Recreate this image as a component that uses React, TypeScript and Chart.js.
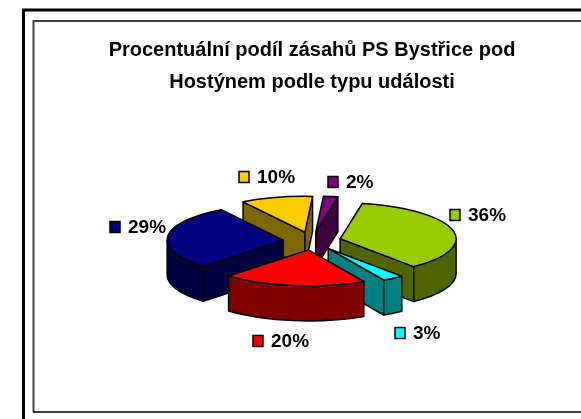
import React, { useEffect, useRef } from "react";
import { Chart, registerables } from "chart.js";

Chart.register(...registerables);

const titleLines = ["Procentuální podíl zásahů PS Bystřice pod", "Hostýnem podle typu události"];
const categories = ["A", "B", "C", "D", "E", "F"];
const shares = [36, 3, 20, 29, 10, 2];
const topColors = ["#99CC00", "#00FFFF", "#FF0000", "#000080", "#FFCC00", "#800080"];
const sideColors = ["#4D6600", "#008080", "#800000", "#000040", "#806600", "#400040"];
const labelAnchors = [
  [450, 215],
  [395, 333],
  [253, 341],
  [110, 227],
  [239, 177],
  [328, 182],
];

const FIRST_SLICE = 11;
const EXPLODE = 29;
const RADIUS = 116;
const TILT = 0.31;
const DEPTH = 35;
const SCENE_X = 312;
const SCENE_Y = 241;
const FONT = 'bold 19px "Liberation Sans", Arial, sans-serif';

const framePlugin = {
  id: "frame",
  beforeDraw(chart: any) {
    const c = chart.ctx;
    c.save();
    c.strokeStyle = "#000";
    c.lineWidth = 3;
    c.beginPath();
    c.moveTo(23.5, 419);
    c.lineTo(23.5, 10);
    c.lineTo(581, 10);
    c.stroke();
    c.lineWidth = 2;
    c.strokeStyle = "#444";
    c.beginPath();
    c.moveTo(581, 21);
    c.lineTo(33.5, 21);
    c.lineTo(33.5, 412);
    c.stroke();
    c.strokeStyle = "#000";
    c.lineWidth = 1.5;
    c.beginPath();
    c.moveTo(33, 412);
    c.lineTo(581, 412);
    c.stroke();
    c.restore();
  },
};

const pie3dPlugin = {
  id: "pie3d",
  beforeDatasetsDraw(chart: any) {
    const c = chart.ctx;
    const arcs = chart.getDatasetMeta(0).data;
    const order = arcs
      .map((a: any, i: number) => i)
      .sort((i: number, j: number) => {
        const mid = (a: any) => Math.sin((a.startAngle + a.endAngle) / 2);
        return mid(arcs[i]) - mid(arcs[j]);
      });
    c.save();
    c.lineWidth = 1.5;
    c.strokeStyle = "#000";
    c.lineJoin = "round";
    for (const i of order) {
      const a = arcs[i];
      const r = a.outerRadius;
      const mid = (a.startAngle + a.endAngle) / 2;
      const cx = SCENE_X + Math.cos(mid) * a.options.offset;
      const cy = SCENE_Y + Math.sin(mid) * a.options.offset * TILT;
      const px = (t: number) => cx + r * Math.cos(t);
      const py = (t: number) => cy + r * TILT * Math.sin(t);
      const radial = (t: number) => {
        c.beginPath();
        c.moveTo(cx, cy);
        c.lineTo(px(t), py(t));
        c.lineTo(px(t), py(t) + DEPTH);
        c.lineTo(cx, cy + DEPTH);
        c.closePath();
        c.fillStyle = sideColors[i];
        c.fill();
        c.stroke();
      };
      if (Math.sin(a.startAngle - Math.PI / 2) > 0) radial(a.startAngle);
      if (Math.sin(a.endAngle + Math.PI / 2) > 0) radial(a.endAngle);
      // rim: only the part of the arc that faces the viewer
      const TAU = Math.PI * 2;
      for (let k = -1; k <= 1; k++) {
        const lo = Math.max(a.startAngle, k * TAU);
        const hi = Math.min(a.endAngle, k * TAU + Math.PI);
        if (hi <= lo) continue;
        c.beginPath();
        c.ellipse(cx, cy, r, r * TILT, 0, lo, hi);
        c.ellipse(cx, cy + DEPTH, r, r * TILT, 0, hi, lo, true);
        c.closePath();
        c.fillStyle = sideColors[i];
        c.fill();
        c.stroke();
      }
      c.beginPath();
      c.moveTo(cx, cy);
      c.ellipse(cx, cy, r, r * TILT, 0, a.startAngle, a.endAngle);
      c.closePath();
      c.fillStyle = topColors[i];
      c.fill();
      c.stroke();
    }
    c.restore();
    return false;
  },
  afterDraw(chart: any) {
    const c = chart.ctx;
    c.save();
    c.font = FONT;
    c.textBaseline = "middle";
    c.textAlign = "left";
    shares.forEach((v, i) => {
      const [x, y] = labelAnchors[i];
      c.fillStyle = topColors[i];
      c.strokeStyle = "#000";
      c.lineWidth = 1.5;
      c.fillRect(x, y - 5.5, 10, 11);
      c.strokeRect(x, y - 5.5, 10, 11);
      c.fillStyle = "#000";
      c.fillText(v + "%", x + 18, y + 0.5);
    });
    c.restore();
  },
};

export default function App() {
  const ref = useRef<HTMLCanvasElement>(null);
  useEffect(() => {
    document.body.style.margin = "0";
    const chart = new Chart(ref.current!, {
      type: "pie",
      data: {
        labels: categories,
        datasets: [
          {
            data: shares,
            backgroundColor: topColors,
            borderColor: "#000",
            borderWidth: 1,
            offset: EXPLODE,
          },
        ],
      },
      options: {
        responsive: false,
        animation: false,
        rotation: FIRST_SLICE,
        radius: RADIUS,
        layout: { padding: { top: 34, right: 0, left: 43, bottom: 0 } },
        plugins: {
          legend: { display: false },
          tooltip: { enabled: false },
          title: {
            display: true,
            text: titleLines,
            color: "#000",
            font: { family: '"Liberation Sans", Arial, sans-serif', size: 20, weight: "bold", lineHeight: 1.6 },
            padding: 0,
          },
        },
      } as any,
      plugins: [framePlugin, pie3dPlugin],
    });
    return () => chart.destroy();
  }, []);
  return <canvas ref={ref} width={581} height={419} style={{ display: "block" }} />;
}
